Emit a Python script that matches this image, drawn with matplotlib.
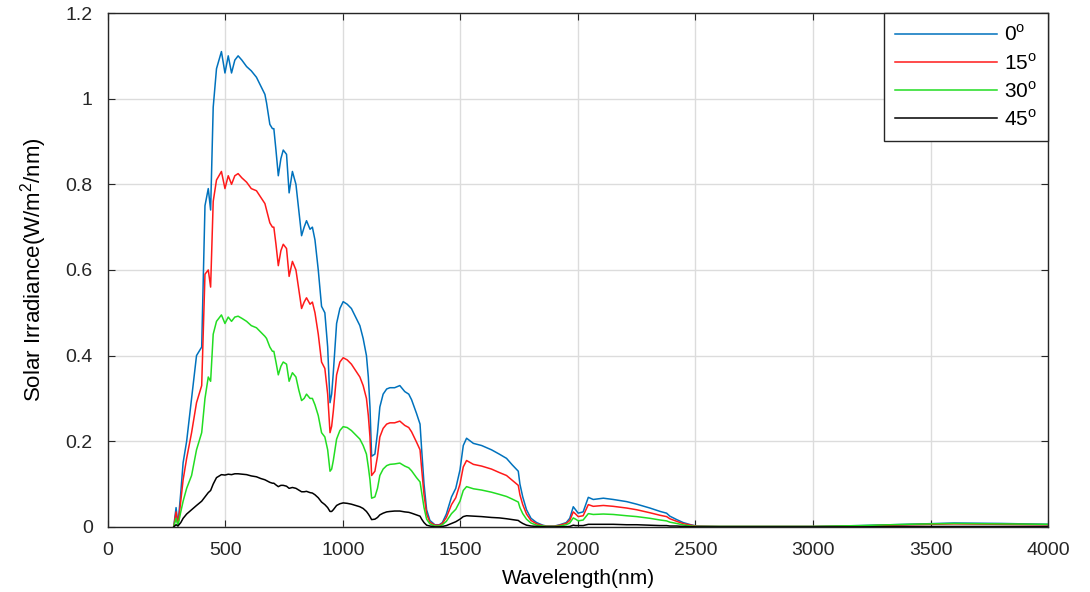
import matplotlib
matplotlib.use("Agg")
import matplotlib.pyplot as plt

plt.rcParams['font.family'] = ['Liberation Sans', 'DejaVu Sans']

# wavelength grid (nm)
wavelength = [280, 290, 298, 310, 320, 335, 356, 377, 399, 413, 427, 437, 448, 462, 483, 498, 512, 526,
              540, 554, 570, 590, 610, 632, 650, 668, 675, 689, 700, 706, 715, 725, 736, 746, 760, 771,
              785, 800, 812, 824, 835, 845, 860, 870, 881, 895, 909, 923, 935, 945, 952, 959, 973, 987,
              1001, 1018, 1036, 1054, 1072, 1086, 1100, 1108, 1115, 1122, 1136, 1147, 1157, 1171, 1186,
              1200, 1220, 1242, 1263, 1280, 1292, 1313, 1328, 1335, 1345, 1356, 1370, 1391, 1410, 1423,
              1440, 1462, 1480, 1498, 1512, 1526, 1555, 1590, 1632, 1665, 1696, 1720, 1746, 1753, 1765,
              1781, 1800, 1824, 1850, 1866, 1900, 1923, 1950, 1965, 1980, 1990, 2001, 2022, 2044, 2065,
              2108, 2150, 2207, 2250, 2306, 2350, 2377, 2391, 2420, 2448, 2480, 2505, 2600, 2800, 3000,
              3200, 3400, 3600, 3800, 4000]

deg0 = [0.0, 0.045, 0.005, 0.08, 0.15, 0.20, 0.30, 0.40, 0.42, 0.75, 0.79, 0.74, 0.98, 1.07, 1.11, 1.06, 1.10, 1.06,
        1.09, 1.10, 1.09, 1.075, 1.065, 1.05, 1.03, 1.01, 0.99, 0.94, 0.93, 0.93, 0.88, 0.82, 0.86, 0.88, 0.87, 0.78,
        0.83, 0.80, 0.74, 0.68, 0.70, 0.715, 0.695, 0.70, 0.67, 0.60, 0.515, 0.50, 0.42, 0.29, 0.31, 0.36, 0.475, 0.51,
        0.526, 0.52, 0.51, 0.49, 0.47, 0.44, 0.40, 0.35, 0.28, 0.165, 0.17, 0.22, 0.28, 0.31, 0.322,
        0.325, 0.325, 0.33, 0.316, 0.31, 0.297, 0.265, 0.24, 0.18, 0.10, 0.04, 0.015, 0.005, 0.005, 0.01,
        0.03, 0.07, 0.09, 0.133, 0.19, 0.207, 0.195, 0.19, 0.18, 0.17, 0.16, 0.145, 0.13, 0.10, 0.07,
        0.04, 0.02, 0.01, 0.004, 0.002, 0.002, 0.005, 0.01, 0.02, 0.047, 0.04, 0.032, 0.035, 0.069, 0.064,
        0.067, 0.064, 0.059, 0.053, 0.044, 0.036, 0.032, 0.025, 0.017, 0.01, 0.005, 0.002, 0.001, 0.001, 0.001,
        0.003, 0.006, 0.009, 0.008, 0.006]

deg15 = [0.0, 0.035, 0.004, 0.06, 0.11, 0.16, 0.22, 0.29, 0.33, 0.59, 0.60, 0.56, 0.76, 0.81, 0.83, 0.79, 0.82, 0.80,
         0.82, 0.825, 0.815, 0.805, 0.79, 0.785, 0.77, 0.755, 0.74, 0.71, 0.70, 0.70, 0.66, 0.61, 0.645, 0.66, 0.65, 0.585,
         0.62, 0.60, 0.555, 0.51, 0.525, 0.535, 0.52, 0.525, 0.50, 0.45, 0.385, 0.37, 0.31, 0.22, 0.235, 0.27, 0.355, 0.385,
         0.395, 0.39, 0.38, 0.365, 0.35, 0.33, 0.30, 0.26, 0.21, 0.12, 0.13, 0.165, 0.21, 0.23, 0.24,
         0.243, 0.243, 0.247, 0.237, 0.232, 0.222, 0.198, 0.18, 0.135, 0.075, 0.03, 0.011, 0.004, 0.004, 0.008,
         0.022, 0.052, 0.068, 0.10, 0.14, 0.155, 0.146, 0.142, 0.135, 0.127, 0.12, 0.109, 0.097, 0.075, 0.052,
         0.03, 0.015, 0.007, 0.003, 0.0015, 0.0015, 0.004, 0.008, 0.015, 0.035, 0.03, 0.024, 0.026, 0.052, 0.048,
         0.05, 0.048, 0.044, 0.04, 0.033, 0.027, 0.024, 0.019, 0.013, 0.0075, 0.004, 0.0015, 0.001, 0.001, 0.001,
         0.002, 0.005, 0.007, 0.006, 0.005]

deg30 = [0.0, 0.02, 0.003, 0.035, 0.06, 0.09, 0.12, 0.18, 0.22, 0.30, 0.35, 0.34, 0.45, 0.48, 0.495, 0.475, 0.49, 0.48,
         0.49, 0.492, 0.487, 0.48, 0.47, 0.465, 0.455, 0.445, 0.44, 0.42, 0.41, 0.41, 0.385, 0.355, 0.375, 0.385, 0.38, 0.34,
         0.36, 0.35, 0.32, 0.295, 0.30, 0.31, 0.30, 0.30, 0.285, 0.26, 0.22, 0.21, 0.18, 0.13, 0.135, 0.155, 0.205, 0.225,
         0.234, 0.232, 0.225, 0.215, 0.205, 0.19, 0.17, 0.14, 0.11, 0.067, 0.07, 0.09, 0.12, 0.135, 0.143,
         0.146, 0.147, 0.149, 0.142, 0.138, 0.131, 0.115, 0.105, 0.08, 0.045, 0.018, 0.007, 0.002, 0.002, 0.005,
         0.013, 0.031, 0.041, 0.06, 0.085, 0.094, 0.089, 0.086, 0.081, 0.076, 0.071, 0.065, 0.058, 0.045, 0.031,
         0.018, 0.009, 0.004, 0.002, 0.001, 0.001, 0.002, 0.005, 0.009, 0.021, 0.018, 0.014, 0.016, 0.031, 0.029,
         0.03, 0.029, 0.026, 0.024, 0.02, 0.016, 0.014, 0.011, 0.008, 0.0045, 0.002, 0.001, 0.001, 0.001, 0.001,
         0.003, 0.006, 0.008, 0.007, 0.006]

deg45 = [0.0, 0.005, 0.002, 0.01, 0.02, 0.03, 0.04, 0.05, 0.06, 0.07, 0.08, 0.085, 0.10, 0.115, 0.122, 0.121, 0.123, 0.122,
         0.124, 0.124, 0.123, 0.122, 0.119, 0.117, 0.113, 0.11, 0.108, 0.104, 0.102, 0.102, 0.098, 0.094, 0.097, 0.097, 0.095, 0.09,
         0.092, 0.09, 0.086, 0.082, 0.082, 0.083, 0.08, 0.079, 0.075, 0.068, 0.058, 0.052, 0.045, 0.036, 0.036, 0.04, 0.05, 0.054,
         0.056, 0.055, 0.053, 0.05, 0.047, 0.043, 0.036, 0.03, 0.024, 0.017, 0.018, 0.022, 0.028, 0.032, 0.035,
         0.036, 0.037, 0.037, 0.035, 0.034, 0.032, 0.028, 0.025, 0.018, 0.01, 0.004, 0.002, 0.0, 0.0, 0.001,
         0.003, 0.008, 0.012, 0.018, 0.024, 0.026, 0.025, 0.024, 0.022, 0.021, 0.019, 0.017, 0.015, 0.012, 0.008,
         0.004, 0.002, 0.001, 0.0005, 0.0, 0.0, 0.0005, 0.0005, 0.001, 0.004, 0.003, 0.003, 0.003, 0.006, 0.006,
         0.006, 0.006, 0.005, 0.005, 0.004, 0.003, 0.003, 0.002, 0.002, 0.001, 0.0005, 0.0, 0.0, 0.0, 0.0,
         0.0, 0.001, 0.001, 0.001, 0.001]

labels = ['0$^\\mathregular{o}$', '15$^\\mathregular{o}$', '30$^\\mathregular{o}$', '45$^\\mathregular{o}$']
xticks = [0, 500, 1000, 1500, 2000, 2500, 3000, 3500, 4000]
yticks = [0, 0.2, 0.4, 0.6, 0.8, 1.0, 1.2]
ytick_labels = ['0', '0.2', '0.4', '0.6', '0.8', '1', '1.2']

fig = plt.figure(figsize=(10.9, 5.92), dpi=100)
ax = fig.add_axes([0.099, 0.11, 0.8625, 0.868])

ax.plot(wavelength, deg0, color='#0072BD', lw=1.1, label=labels[0])
ax.plot(wavelength, deg15, color='#ff1a1a', lw=1.1, label=labels[1])
ax.plot(wavelength, deg30, color='#22dd22', lw=1.1, label=labels[2])
ax.plot(wavelength, deg45, color='black', lw=1.1, label=labels[3])

ax.set_xlim(0, 4000)
ax.set_ylim(0, 1.2)
ax.set_xticks(xticks)
ax.set_yticks(yticks)
ax.set_yticklabels(ytick_labels)
ax.tick_params(direction='in', top=True, right=True, labelsize=14, length=5, colors='#262626')
ax.tick_params(axis='x', pad=11)
ax.tick_params(axis='y', pad=11)
ax.grid(True, color='#dcdcdc', lw=1)
for s in ax.spines.values():
    s.set_color('#262626')
    s.set_linewidth(1)

ax.set_xlabel('Wavelength(nm)', fontsize=15, labelpad=7)
ax.set_ylabel('Solar Irradiance(W/m$^\\mathregular{2}$/nm)', fontsize=16, labelpad=12)

leg = ax.legend(loc='upper right', borderaxespad=0, fancybox=False, fontsize=15,
                handlelength=4.9, labelspacing=0.36, borderpad=0.55, handletextpad=0.3)
leg.get_frame().set_edgecolor('#262626')
leg.get_frame().set_linewidth(1)
leg.get_frame().set_alpha(1)

fig.savefig('out.png', dpi=100)
